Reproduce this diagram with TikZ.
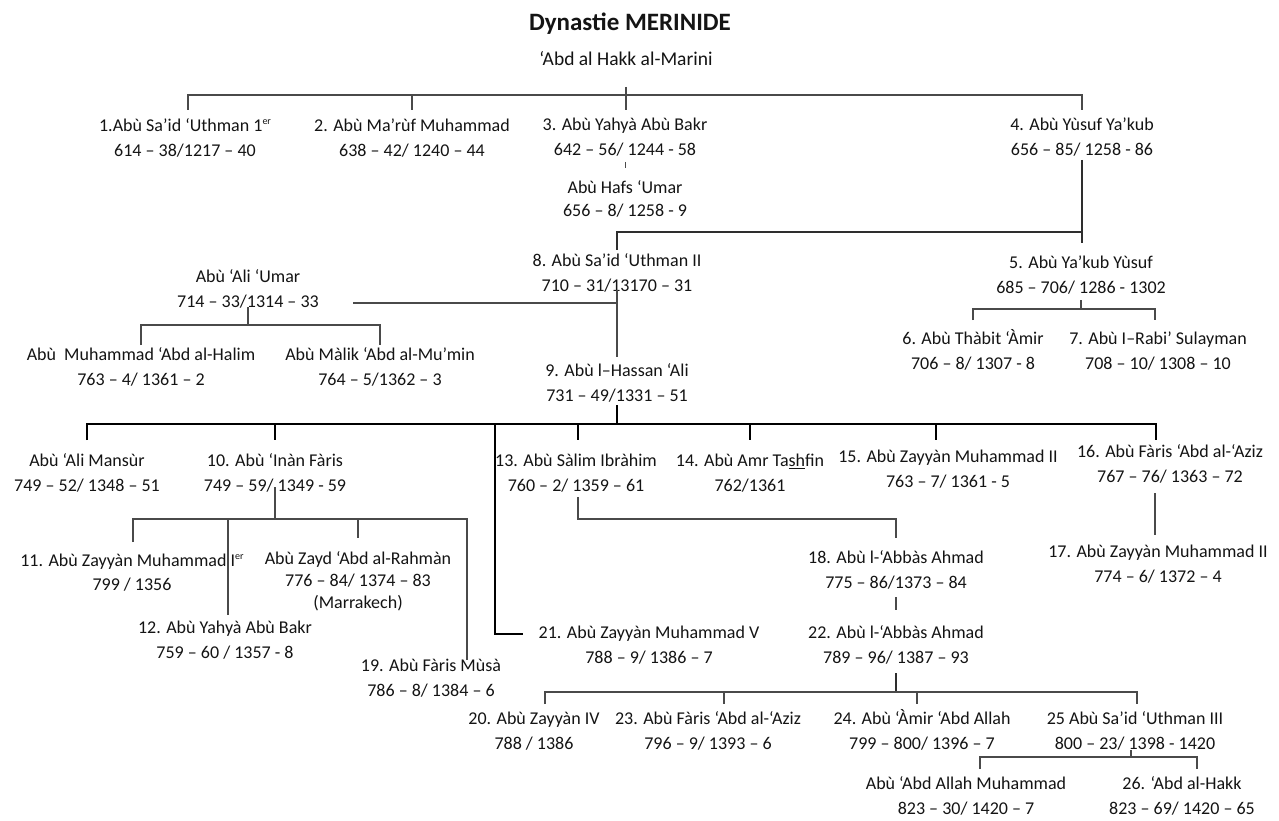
\documentclass[tikz,border=0pt]{standalone}
\usepackage{fontspec}
\setmainfont{Carlito}
\definecolor{txt}{HTML}{141414}
\definecolor{lin}{HTML}{4A4A4A}
\definecolor{lin2}{HTML}{2E2E2E}
\newcommand{\mystrut}{\rule{0pt}{16pt}}
\newcommand{\supr}[1]{\raisebox{6.5pt}{\fontsize{10}{10}\selectfont #1}}
\begin{document}
\begin{tikzpicture}[x=1pt,y=-1pt,
  every node/.style={inner sep=0pt, text=txt},
  person/.style={anchor=north, align=center, font=\fontsize{18}{25}\selectfont},
  single/.style={anchor=base, font=\fontsize{19.5}{25}\selectfont},
  thinline/.style={draw=lin, line width=1.3pt},
  midline/.style={draw=lin2, line width=1.8pt},
  thickline/.style={draw=black, line width=2.6pt},
]
\path[use as bounding box, fill=white] (0,0) rectangle (1279,821);

% ---- nodes ----
\node[anchor=base, font=\fontsize{25}{30}\selectfont\bfseries] (title) at (630,31) {Dynastie MERINIDE};
\node[single] (root) at (626,66) {‘Abd al Hakk al-Marini};

\node[person] (p1) at (185,115) {\mystrut 1.Abù Sa’id ‘Uthman 1\supr{er}\\614 – 38/1217 – 40};
\node[person] (p2) at (412,115) {\mystrut 2. Abù Ma’rùf Muhammad\\638 – 42/ 1240 – 44};
\node[person] (p3) at (625,114) {\mystrut 3. Abù Yahyà Abù Bakr\\642 – 56/ 1244 - 58};
\node[person] (hafs) at (625,177) {\mystrut Abù Hafs ‘Umar\\[-2pt]656 – 8/ 1258 - 9};
\node[person] (p4) at (1082,114) {\mystrut 4. Abù Yùsuf Ya’kub\\656 – 85/ 1258 - 86};

\node[person] (p8) at (617,250) {\mystrut 8. Abù Sa’id ‘Uthman II\\710 – 31/13170 – 31};
\node[person] (aliumar) at (248,266) {\mystrut Abù ‘Ali ‘Umar\\714 – 33/1314 – 33};
\node[person] (p5) at (1081,252) {\mystrut 5. Abù Ya’kub Yùsuf\\685 – 706/ 1286 - 1302};
\node[person] (p6) at (973,328) {\mystrut 6. Abù Thàbit ‘Àmir\\706 – 8/ 1307 - 8};
\node[person] (p7) at (1158,328) {\mystrut 7. Abù I–Rabi’ Sulayman\\708 – 10/ 1308 – 10};
\node[person] (halim) at (141,344) {\mystrut Abù\ \ Muhammad ‘Abd al-Halim\\763 – 4/ 1361 – 2};
\node[person] (malik) at (380,344) {\mystrut Abù Màlik ‘Abd al-Mu’min\\764 – 5/1362 – 3};
\node[person] (p9) at (617,360) {\mystrut 9. Abù l–Hassan ‘Ali\\731 – 49/1331 – 51};

\node[person] (mansur) at (87,450) {\mystrut Abù ‘Ali Mansùr\\749 – 52/ 1348 – 51};
\node[person] (p10) at (275,450) {\mystrut 10. Abù ‘Inàn Fàris\\749 – 59/ 1349 - 59};
\node[person] (p13) at (576,450) {\mystrut 13. Abù Sàlim Ibràhim\\760 – 2/ 1359 – 61};
\node[person] (p14) at (750,450) {\mystrut 14. Abù Amr Ta\underline{sh}fin\\762/1361};
\node[person] (p15) at (948,446) {\mystrut 15. Abù Zayyàn Muhammad II\\763 – 7/ 1361 - 5};
\node[person] (p16) at (1170,441) {\mystrut 16. Abù Fàris ‘Abd al-‘Aziz\\767 – 76/ 1363 – 72};
\node[person] (p17) at (1158,541) {\mystrut 17. Abù Zayyàn Muhammad II\\774 – 6/ 1372 – 4};

\node[person] (p11) at (132,550) {\mystrut 11. Abù Zayyàn Muhammad I\supr{er}\\[-1pt]799 / 1356};
\node[person] (zayd) at (358,548) {\mystrut Abù Zayd ‘Abd al-Rahmàn\\[-3pt]776 – 84/ 1374 – 83\\[-3pt](Marrakech)};
\node[person] (p12) at (225,617) {\mystrut 12. Abù Yahyà Abù Bakr\\759 – 60 / 1357 - 8};
\node[person] (p19) at (431,655) {\mystrut 19. Abù Fàris Mùsà\\786 – 8/ 1384 – 6};
\node[person] (p18) at (896,547) {\mystrut 18. Abù l-‘Abbàs Ahmad\\775 – 86/1373 – 84};
\node[person] (p21) at (649,622) {\mystrut 21. Abù Zayyàn Muhammad V\\788 – 9/ 1386 – 7};
\node[person] (p22) at (896,622) {\mystrut 22. Abù l-‘Abbàs Ahmad\\789 – 96/ 1387 – 93};

\node[person] (p20) at (534,708) {\mystrut 20. Abù Zayyàn IV\\788 / 1386};
\node[person] (p23) at (708,708) {\mystrut 23. Abù Fàris ‘Abd al-‘Aziz\\796 – 9/ 1393 – 6};
\node[person] (p24) at (922,708) {\mystrut 24. Abù ‘Àmir ‘Abd Allah\\799 – 800/ 1396 – 7};
\node[person] (p25) at (1135,708) {\mystrut 25 Abù Sa’id ‘Uthman III\\800 – 23/ 1398 - 1420};
\node[person] (abdallah) at (966,773) {\mystrut Abù ‘Abd Allah Muhammad\\823 – 30/ 1420 – 7};
\node[person] (p26) at (1182,773) {\mystrut 26. ‘Abd al-Hakk\\823 – 69/ 1420 – 65};

% ---- junction coordinates ----
\coordinate (e21) at (523,634);
\coordinate (auend) at (353,303);

% ---- connectors ----
% generation 1
\draw[thinline] (root |- 0,87) -- (root |- 0,110);
\draw[thinline] (188,110) -- (188,95) -- (p4 |- 0,95) -- (p4 |- 0,110);
\draw[thinline] (p2 |- 0,95) -- (p2 |- 0,110);
\draw[thinline, line width=0.8pt] (p3 |- 0,162) -- (hafs |- 0,168);
% 4 -> 8 and 5
\draw[midline] (p4 |- 0,160) -- (p4 |- 0,243);
\draw[midline] (p4 |- 0,232) -- (p8 |- 0,232) -- (p8 |- 0,250);
% 8 -> 9, Abu Ali Umar
\draw[thinline] (p8 |- 0,290) -- (p9 |- 0,357);
\draw[thinline] (auend) -- (p8 |- auend);
\draw[thinline] (aliumar |- 0,307) -- (aliumar |- 0,325);
\draw[thinline] (halim |- 0,345) -- (halim |- 0,325) -- (malik |- 0,325) -- (malik |- 0,345);
% 5 -> 6, 7
\draw[thinline] (p5 |- 0,300) -- (p5 |- 0,309);
\draw[thinline] (p6 |- 0,320) -- (p6 |- 0,309) -- (1155,309) -- (1155,320);
% 9 -> children (thick)
\draw[thickline] (p9 |- 0,405) -- (p9 |- 0,424);
\draw[thickline] (mansur |- 0,440) -- (mansur |- 0,424) -- (1156,424) -- (1156,440);
\draw[thickline] (p10 |- 0,424) -- (p10 |- 0,440);
\draw[thickline] (578,424) -- (578,440);
\draw[thickline] (p14 |- 0,424) -- (p14 |- 0,440);
\draw[thickline] (936,424) -- (936,440);
\draw[thickline] (495,424) -- (495,634) -- (e21);
% 10 -> children
\draw[thinline] (p10 |- 0,487) -- (p10 |- 0,519);
\draw[thinline] (133,542) -- (133,519) -- (467,519) -- (467,660);
\draw[thinline] (228,519) -- (228,615);
\draw[thinline] (zayd |- 0,519) -- (zayd |- 0,538);
% 13 -> 18
\draw[thinline] (578,497) -- (578,519) -- (p18 |- 0,519) -- (p18 |- 0,538);
% 16 -> 17
\draw[thinline] (1155,493) -- (1155,535);
% 18 -> 22
\draw[thinline] (p18 |- 0,597) -- (p18 |- 0,610);
% 22 -> children
\draw[midline] (p22 |- 0,673) -- (p22 |- 0,692);
\draw[thinline] (545,704) -- (545,692) -- (1137,692) -- (1137,704);
\draw[thinline] (724,692) -- (724,704);
\draw[thinline] (917,692) -- (917,704);
% 25 -> children
\draw[thinline] (1131,750) -- (1131,757);
\draw[thinline] (980,769) -- (980,757) -- (1197,757) -- (1197,769);
\end{tikzpicture}
\end{document}
